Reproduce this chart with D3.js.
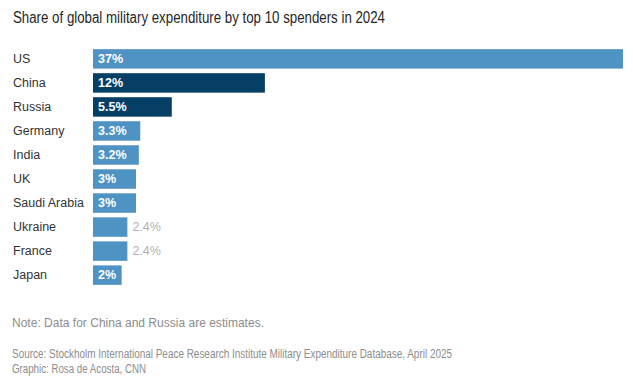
<!DOCTYPE html>
<html>
<head>
<meta charset="utf-8">
<script src="https://cdn.jsdelivr.net/npm/d3@7"></script>
<style>
  body { margin: 0; background: #fff; }
  svg text { font-family: "Liberation Sans Narrow", "Liberation Sans", Arial, sans-serif; }
</style>
</head>
<body>
<div id="chart"></div>
<script>
var countries = ["US", "China", "Russia", "Germany", "India", "UK", "Saudi Arabia", "Ukraine", "France", "Japan"];
var shares = [37, 12, 5.5, 3.3, 3.2, 3, 3, 2.4, 2.4, 2];
var labels = ["37%", "12%", "5.5%", "3.3%", "3.2%", "3%", "3%", "2.4%", "2.4%", "2%"];
var estimated = ["China", "Russia"];
var outside = ["Ukraine", "France"];

var width = 633, height = 386;

var svg = d3.select("#chart")
  .append("svg")
    .attr("width", width)
    .attr("height", height);

var x = d3.scaleLinear()
  .domain([0, 37])
  .range([93, 623]);

var y = d3.scaleBand()
  .domain(countries)
  .range([47, 287])
  .paddingInner(0.19)
  .paddingOuter(0.09);

var data = countries.map(function(c, i) {
  return { country: c, share: shares[i], label: labels[i] };
});

svg.append("text")
  .attr("x", 13)
  .attr("y", 23)
  .attr("fill", "#262626")
  .attr("font-size", "16px")
  .attr("textLength", 372)
  .attr("lengthAdjust", "spacingAndGlyphs")
  .text("Share of global military expenditure by top 10 spenders in 2024");

var rows = svg.append("g")
  .selectAll("g")
  .data(data)
  .enter()
  .append("g");

rows.append("text")
  .attr("x", 13)
  .attr("y", function(d) { return y(d.country) + y.bandwidth() / 2; })
  .attr("dy", "0.35em")
  .attr("fill", "#333")
  .attr("font-size", "12.5px")
  .text(function(d) { return d.country; });

rows.append("rect")
  .attr("x", x(0))
  .attr("y", function(d) { return y(d.country); })
  .attr("width", function(d) { return x(d.share) - x(0); })
  .attr("height", y.bandwidth())
  .attr("fill", function(d) { return estimated.indexOf(d.country) >= 0 ? "#063f66" : "#4f92c4"; });

rows.append("text")
  .attr("x", function(d) { return outside.indexOf(d.country) >= 0 ? x(d.share) + 5 : x(0) + 5; })
  .attr("y", function(d) { return y(d.country) + y.bandwidth() / 2; })
  .attr("dy", "0.35em")
  .attr("fill", function(d) { return outside.indexOf(d.country) >= 0 ? "#b0b0b0" : "#fff"; })
  .attr("font-size", "12.5px")
  .attr("font-weight", function(d) { return outside.indexOf(d.country) >= 0 ? "normal" : "bold"; })
  .text(function(d) { return d.label; });

var notes = [
  { t: "Note: Data for China and Russia are estimates.", y: 327, w: 252 },
  { t: "Source: Stockholm International Peace Research Institute Military Expenditure Database, April 2025", y: 358, w: 440 },
  { t: "Graphic: Rosa de Acosta, CNN", y: 373, w: 134 }
];

svg.append("g")
  .selectAll("text")
  .data(notes)
  .enter()
  .append("text")
    .attr("x", 12)
    .attr("y", function(d) { return d.y; })
    .attr("fill", "#8c8c8c")
    .attr("font-size", "12px")
    .attr("textLength", function(d) { return d.w; })
    .attr("lengthAdjust", "spacingAndGlyphs")
    .text(function(d) { return d.t; });
</script>
</body>
</html>
